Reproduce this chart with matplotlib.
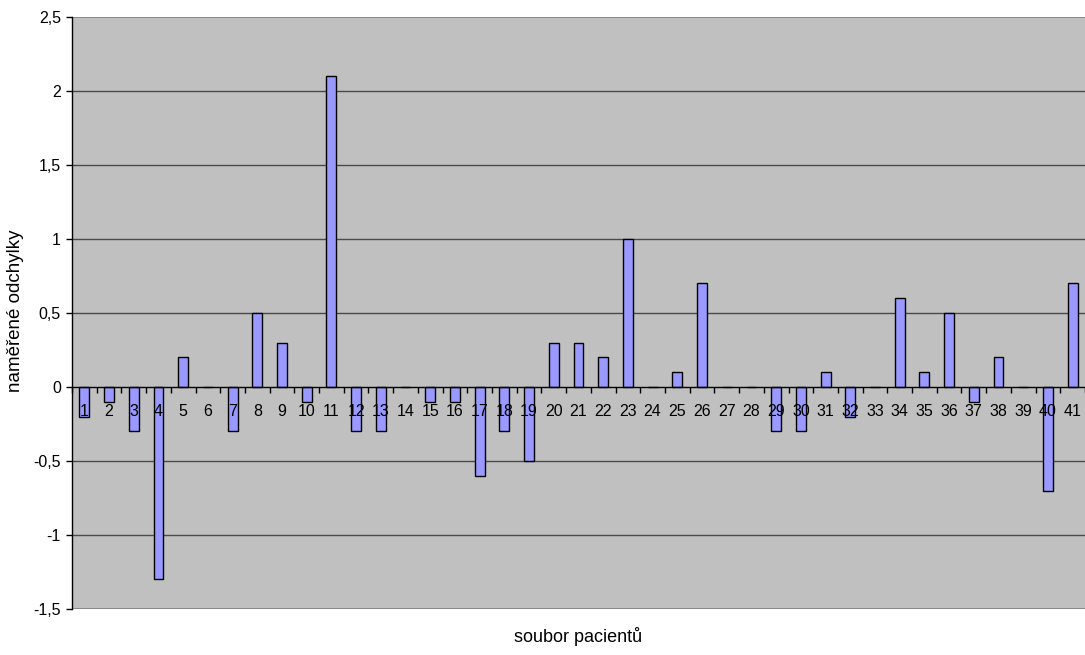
import matplotlib
matplotlib.use("Agg")
import matplotlib.pyplot as plt
from matplotlib.ticker import FixedLocator, FuncFormatter

plt.rcParams['font.family'] = ['Liberation Sans', 'DejaVu Sans']

patients = list(range(1, 42))
deviations = [-0.2, -0.1, -0.3, -1.3, 0.2, 0.0, -0.3, 0.5, 0.3, -0.1,
              2.1, -0.3, -0.3, 0.0, -0.1, -0.1, -0.6, -0.3, -0.5, 0.3,
              0.3, 0.2, 1.0, 0.0, 0.1, 0.7, 0.0, 0.0, -0.3, -0.3,
              0.1, -0.2, 0.0, 0.6, 0.1, 0.5, -0.1, 0.2, 0.0, -0.7,
              0.7]
y_ticks = [-1.5, -1, -0.5, 0, 0.5, 1, 1.5, 2, 2.5]

W, H = 1085, 655
fig = plt.figure(figsize=(W / 100, H / 100), dpi=100)
left, right, top, bottom = 72, 1085, 17, 609
ax = fig.add_axes([left / W, (H - bottom) / H, (right - left) / W, (bottom - top) / H])
ax.set_facecolor('#C0C0C0')

ax.set_xlim(0.5, len(patients) + 0.5)
ax.set_ylim(-1.5, 2.5)

for v in y_ticks:
    if v in (-1.5, 2.5):
        ax.axhline(v, color='#808080', lw=1.2, zorder=0.6)
    elif v != 0:
        ax.axhline(v, color='#4a4a4a', lw=1.0, zorder=0.6)

ax.bar(patients, deviations, width=0.4, color='#9999FF', edgecolor='#000000',
       linewidth=1.0, zorder=1)

# spines
for s in ('top', 'right'):
    ax.spines[s].set_visible(False)
ax.spines['left'].set_color('#000000')
ax.spines['left'].set_linewidth(1.0)
ax.spines['bottom'].set_position(('data', 0))
ax.spines['bottom'].set_color('#000000')
ax.spines['bottom'].set_linewidth(1.0)

# x axis: labels at category centers, ticks at boundaries
ax.xaxis.set_major_locator(FixedLocator(patients))
ax.set_xticklabels([str(p) for p in patients])
ax.xaxis.set_minor_locator(FixedLocator([p + 0.5 for p in range(0, 42)]))
ax.tick_params(axis='x', which='major', length=0, pad=12.5, labelsize=11.5, colors='#000000')
ax.tick_params(axis='x', which='minor', length=4, width=1, direction='out', color='#000000')

# y axis
ax.yaxis.set_major_locator(FixedLocator(y_ticks))
ax.yaxis.set_major_formatter(FuncFormatter(lambda v, p: (('%g' % v).replace('.', ','))))
ax.tick_params(axis='y', which='major', length=4, width=1, direction='out', labelsize=11.5, pad=4)

fig.text(16 / W, 1 - 311 / H, 'naměřené odchylky', rotation=90, ha='center', va='center', fontsize=13.5)
fig.text(578 / W, 1 - 637 / H, 'soubor pacientů', ha='center', va='center', fontsize=13)

fig.savefig('out.png', dpi=100)
